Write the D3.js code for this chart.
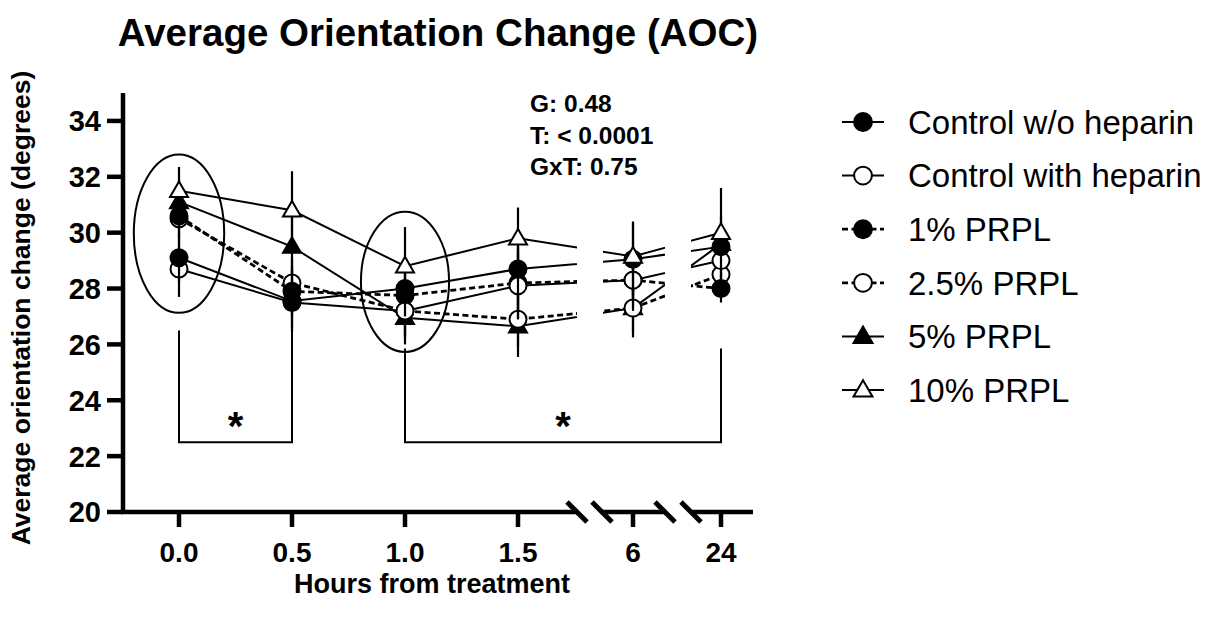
<!DOCTYPE html>
<html>
<head>
<meta charset="utf-8">
<script src="https://cdn.jsdelivr.net/npm/d3@7"></script>
<style>
  body { margin: 0; background: #fff; }
  svg { display: block; }
  text { font-family: "Liberation Sans", Arial, Helvetica, sans-serif; fill: #000; }
</style>
</head>
<body>
<svg id="chart" width="1214" height="617"></svg>
<script>
// ---- data ----
const hours = [0, 0.5, 1, 1.5, 6, 24];
const hourLabels = ["0.0", "0.5", "1.0", "1.5", "6", "24"];
const yTicks = [20, 22, 24, 26, 28, 30, 32, 34];

const seriesNames = ["Control w/o heparin", "Control with heparin", "1% PRPL", "2.5% PRPL", "5% PRPL", "10% PRPL"];

const ctrlNoHeparin      = [29.1, 27.55, 28.0, 28.7, 29.05, 29.5];
const ctrlNoHeparinSem   = [0.9, 1.1, 1.0, 1.0, 1.3, 0.3];
const ctrlHeparin        = [28.7, 27.5, 27.2, 28.1, 28.3, 29.0];
const ctrlHeparinSem     = [1.0, 0.9, 0.9, 1.2, 1.0, 0.9];
const prpl1              = [30.6, 27.9, 27.75, 28.2, 28.3, 28.0];
const prpl1Sem           = [0.8, 0.9, 0.9, 1.3, 1.1, 0.5];
const prpl25             = [30.5, 28.2, 27.2, 26.9, 27.3, 28.5];
const prpl25Sem          = [0.8, 0.9, 1.0, 1.0, 1.05, 0.8];
const prpl5              = [31.1, 29.5, 26.95, 26.65, 27.3, 29.6];
const prpl5Sem           = [0.8, 1.2, 0.95, 1.1, 0.9, 1.0];
const prpl10             = [31.5, 30.8, 28.8, 29.8, 29.15, 30.0];
const prpl10Sem          = [0.85, 1.4, 1.4, 1.1, 1.25, 1.6];

// two-way ANOVA summary
const statsLines = ["G: 0.48", "T: < 0.0001", "GxT: 0.75"];

// highlighted groups of time points and significance brackets
const ellipseHours = [0, 1];
const ellipseLow   = [27.13, 25.73];
const ellipseHigh  = [32.8, 30.75];
const ellipseHalfW = [0.2, 0.195];   // in hours

const bracketFrom  = [0, 1];
const bracketTo    = [0.5, 24];
const bracketTop   = [26.5, 25.85];
const bracketBase  = [22.5, 22.5];
const bracketMark  = ["*", "*"];

// ---- series table ----
const styles = [
  { shape: "circle",   filled: true,  dashed: false },
  { shape: "circle",   filled: false, dashed: false },
  { shape: "circle",   filled: true,  dashed: true  },
  { shape: "circle",   filled: false, dashed: true  },
  { shape: "triangle", filled: true,  dashed: false },
  { shape: "triangle", filled: false, dashed: false }
];
const values = [ctrlNoHeparin, ctrlHeparin, prpl1, prpl25, prpl5, prpl10];
const sems   = [ctrlNoHeparinSem, ctrlHeparinSem, prpl1Sem, prpl25Sem, prpl5Sem, prpl10Sem];
const series = seriesNames.map((name, i) => ({
  name, ...styles[i],
  points: hours.map((h, j) => ({ h, v: values[i][j], e: sems[i][j] }))
}));
// stacking of symbols (back to front)
const drawOrder = [4, 3, 2, 1, 0, 5];

// ---- scales ----
const svg = d3.select("#chart");
// piecewise x axis: 0–1.5 h evenly spaced, then 6 h and 24 h after breaks
const x = d3.scaleLinear().domain([-0.2478, 1.5, 6, 24]).range([123, 518, 633, 721]);
const y = d3.scaleLinear().domain([20, 35]).range([512, 93]);

const AXIS_W = 4.5;

// axis segments between the breaks (pixels) and matching clip windows for the data lines
const axisSegments = [[121, 578], [601, 666], [690, 753]];
const clipWindows  = [[123, 577], [603, 665], [691, 760]];
const breakCenters = [577, 602, 665, 691];

const defs = svg.append("defs");
clipWindows.forEach((c, i) => {
  defs.append("clipPath").attr("id", "seg" + i)
    .append("rect").attr("x", c[0]).attr("y", 0).attr("width", c[1] - c[0]).attr("height", 617);
});

// ---- title ----
svg.append("text").attr("x", 438).attr("y", 46).attr("text-anchor", "middle")
  .attr("font-size", 38.5).attr("font-weight", "bold").text("Average Orientation Change (AOC)");

// ---- ellipses ----
ellipseHours.forEach((h, i) => {
  const cx = x(h), cy = y((ellipseLow[i] + ellipseHigh[i]) / 2);
  const rx = x(h + ellipseHalfW[i]) - x(h);
  const ry = y(ellipseLow[i]) - cy;
  svg.append("ellipse").attr("cx", cx).attr("cy", cy).attr("rx", rx).attr("ry", ry)
    .attr("fill", "none").attr("stroke", "#000").attr("stroke-width", 2);
});

// ---- significance brackets ----
bracketFrom.forEach((h0, i) => {
  const x0 = x(h0), x1 = x(bracketTo[i]);
  const yt = y(bracketTop[i]), yb = y(bracketBase[i]);
  svg.append("path")
    .attr("d", `M${x0},${yt}V${yb}H${x1}V${yt}`)
    .attr("fill", "none").attr("stroke", "#000").attr("stroke-width", 2);
  svg.append("text").attr("x", (x0 + x1) / 2).attr("y", yb - 2).attr("text-anchor", "middle")
    .attr("font-size", 40).attr("font-weight", "bold").text(bracketMark[i]);
});

// ---- connecting lines (clipped at the axis breaks) ----
const line = d3.line().x(d => x(d.h)).y(d => y(d.v));
const linesG = svg.append("g");
clipWindows.forEach((c, k) => {
  const g = linesG.append("g").attr("clip-path", `url(#seg${k})`);
  series.forEach(s => {
    g.append("path").attr("d", line(s.points))
      .attr("fill", "none").attr("stroke", "#000")
      .attr("stroke-width", s.dashed ? 2.8 : 2)
      .attr("stroke-dasharray", s.dashed ? "6,3.5" : null);
  });
});

// ---- markers ----
function drawMarker(g, s, cx, cy, scale) {
  const k = scale || 1;
  if (s.shape === "circle") {
    g.append("circle").attr("cx", cx).attr("cy", cy).attr("r", 8.5 * k)
      .attr("fill", s.filled ? "#000" : "#fff").attr("stroke", "#000").attr("stroke-width", 2);
  } else {
    const w = 18 * k, h = 15.6 * k;
    g.append("path")
      .attr("d", `M${cx},${cy - h * 0.6}L${cx + w / 2},${cy + h * 0.4}L${cx - w / 2},${cy + h * 0.4}Z`)
      .attr("fill", s.filled ? "#000" : "#fff").attr("stroke", "#000").attr("stroke-width", 2)
      .attr("stroke-linejoin", "miter");
  }
}

// error bars then symbols, series by series
const markG = svg.append("g");
drawOrder.forEach(idx => {
  const s = series[idx];
  const g = markG.append("g");
  s.points.forEach(p => {
    g.append("line").attr("x1", x(p.h)).attr("x2", x(p.h))
      .attr("y1", y(p.v - p.e)).attr("y2", y(p.v + p.e))
      .attr("stroke", "#000").attr("stroke-width", 2.2);
  });
  s.points.forEach(p => drawMarker(g, s, x(p.h), y(p.v)));
});

// ---- y axis ----
const yAxisG = svg.append("g");
yAxisG.append("line").attr("x1", 123).attr("x2", 123).attr("y1", y(35)).attr("y2", 514)
  .attr("stroke", "#000").attr("stroke-width", AXIS_W);
yTicks.forEach(t => {
  yAxisG.append("line").attr("x1", 107).attr("x2", 123).attr("y1", y(t)).attr("y2", y(t))
    .attr("stroke", "#000").attr("stroke-width", AXIS_W);
  yAxisG.append("text").attr("x", 101).attr("y", y(t)).attr("dy", "0.36em")
    .attr("text-anchor", "end").attr("font-size", 29).attr("font-weight", "bold").text(t);
});

// ---- x axis with breaks ----
const xAxisG = svg.append("g");
axisSegments.forEach(sg => {
  xAxisG.append("line").attr("x1", sg[0]).attr("x2", sg[1]).attr("y1", 512).attr("y2", 512)
    .attr("stroke", "#000").attr("stroke-width", AXIS_W);
});
breakCenters.forEach(cx => {
  xAxisG.append("line").attr("x1", cx - 10).attr("x2", cx + 10).attr("y1", 502).attr("y2", 522)
    .attr("stroke", "#000").attr("stroke-width", 5);
});
hours.forEach((h, i) => {
  xAxisG.append("line").attr("x1", x(h)).attr("x2", x(h)).attr("y1", 512).attr("y2", 527)
    .attr("stroke", "#000").attr("stroke-width", AXIS_W);
  xAxisG.append("text").attr("x", x(h)).attr("y", 562).attr("text-anchor", "middle")
    .attr("font-size", 28).attr("font-weight", "bold").text(hourLabels[i]);
});

// ---- axis titles ----
svg.append("text").attr("x", 432).attr("y", 593).attr("text-anchor", "middle")
  .attr("font-size", 27).attr("font-weight", "bold").text("Hours from treatment");
svg.append("text").attr("transform", "translate(30,308) rotate(-90)").attr("text-anchor", "middle")
  .attr("font-size", 26.5).attr("font-weight", "bold").text("Average orientation change (degrees)");

// ---- statistics ----
statsLines.forEach((t, i) => {
  svg.append("text").attr("x", 530).attr("y", 112 + i * 31.5)
    .attr("font-size", 24.5).attr("font-weight", "bold").text(t);
});

// ---- legend ----
const legend = svg.append("g");
series.forEach((s, i) => {
  const cy = 122 + i * 53.6;
  legend.append("line").attr("x1", 842).attr("x2", 884).attr("y1", cy).attr("y2", cy)
    .attr("stroke", "#000").attr("stroke-width", s.dashed ? 2.8 : 2)
    .attr("stroke-dasharray", s.dashed ? "6,3.5" : null);
  drawMarker(legend, s, 863, cy, 1.05);
  legend.append("text").attr("x", 908).attr("y", cy).attr("dy", "0.36em")
    .attr("font-size", 33).text(s.name);
});
</script>
</body>
</html>
